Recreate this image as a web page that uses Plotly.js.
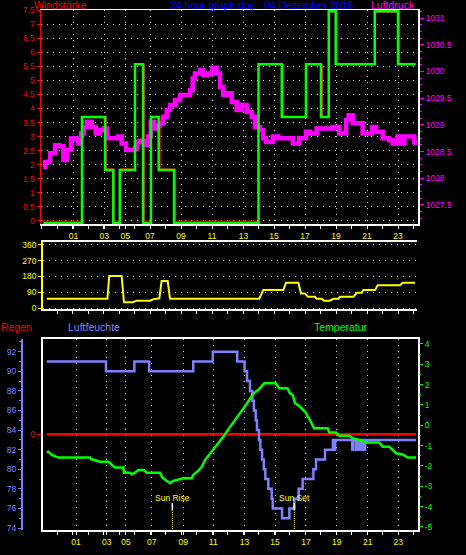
<!DOCTYPE html>
<html><head><meta charset="utf-8">
<script src="https://cdn.plot.ly/plotly-3.0.1.min.js"></script>
<style>html,body{margin:0;padding:0;background:#000;}#c{width:466px;height:555px;}</style>
</head><body><div id="c"></div>
<script>
// ---------- data (hours of the day) ----------
const hourLabels = ['01','03','05','07','09','11','13','15','17','19','21','23'];
const topTickPos = [2.06,4.05,5.41,7.0,9.0,11.0,13.03,15.0,17.0,19.0,21.0,23.0];
const botTickPos = [2.23,4.21,5.45,7.11,9.15,11.08,13.09,15.07,17.06,19.05,21.05,23.02];

// Windstärke (green) step series
const windT = [0.12,2.61,4.10,4.63,5.05,6.03,6.55,7.06,7.56,8.55,14.0,15.5,17.06,18.03,18.53,18.98,21.5,23.0,24.14];
const windV = [0,3.704,1.852,0,1.852,5.556,0,3.704,1.852,0,5.556,3.704,5.556,3.704,7.408,5.556,7.408,5.556,5.556];
// Windböe (red) step series
const gustT = [0.05,2.61,4.20,4.73,5.05,6.03,6.65,7.06,7.66,8.65,14.0,15.6,17.06,18.13,18.53,19.08,21.5,23.1,24.14];
const gustV = [0,3.704,1.852,0,1.852,5.556,0,3.704,1.852,0,5.556,3.704,5.556,3.704,7.408,5.556,7.408,5.556,5.556];

// Luftdruck (magenta)
const pressT = [0.12,0.23,0.42,0.55,0.76,0.87,1.15,1.41,1.63,1.90,2.16,2.37,2.55,2.74,2.95,3.24,3.50,3.77,4.05,4.21,4.63,4.95,5.17,5.45,6.03,6.14,6.35,6.61,6.89,7.05,7.26,7.43,7.65,7.86,8.08,8.29,8.61,8.94,9.26,9.58,9.75,9.90,10.23,10.44,10.76,11.02,11.30,11.52,11.73,11.95,12.27,12.59,12.92,13.24,13.56,13.77,14.10,14.31,14.48,14.63,14.92,15.28,15.82,16.21,16.63,17.06,17.32,17.50,17.75,18.35,18.79,19.21,19.65,19.82,20.08,20.50,20.72,21.05,21.32,21.58,22.01,22.44,22.66,22.98,23.19,23.41,23.73,24.05,24.12];
const pressV = [1028.21,1028.30,1028.31,1028.47,1028.47,1028.62,1028.60,1028.34,1028.53,1028.75,1028.73,1028.65,1028.84,1028.96,1029.06,1028.96,1028.84,1028.90,1028.93,1028.75,1028.75,1028.78,1028.65,1028.53,1028.56,1028.68,1028.70,1028.62,1028.78,1029.06,1028.93,1028.99,1029.03,1029.15,1029.28,1029.37,1029.46,1029.56,1029.56,1029.65,1029.87,1029.96,1030.02,1029.93,1029.96,1030.07,1029.96,1029.71,1029.56,1029.59,1029.43,1029.28,1029.37,1029.24,1029.15,1028.96,1028.90,1028.75,1028.68,1028.68,1028.78,1028.75,1028.75,1028.65,1028.75,1028.87,1028.84,1028.84,1028.93,1028.93,1028.96,1028.84,1029.09,1029.18,1029.03,1029.03,1028.84,1028.84,1028.96,1028.87,1028.75,1028.71,1028.65,1028.78,1028.65,1028.78,1028.78,1028.68,1028.62];
const pressTicks = [1027.5,1028,1028.5,1029,1029.5,1030,1030.5,1031];
const pressLabels = ['1027.5','1028','1028.5','1029','1029.5','1030','1030.5','1031'];
const windTicks = [0,0.5,1,1.5,2,2.5,3,3.5,4,4.5,5,5.5,6,6.5,7,7.5];

// Windrichtung (yellow)
const dirT = [0.34,4.25,4.37,5.17,5.32,5.90,6.14,7.00,7.21,7.60,7.75,8.14,8.29,14.05,14.31,15.60,15.77,16.57,16.74,17.00,17.20,17.65,17.75,18.08,18.23,18.60,18.83,19.15,19.26,20.12,20.34,20.66,20.76,21.52,21.69,23.13,23.30,24.10];
const dirV = [54,54,183,183,34,34,43,43,51,56,155,155,54,54,103,103,144,144,84,84,65,65,54,54,43,43,54,54,65,65,88,88,103,103,131,131,144,144];
const dirTicks = [0,90,180,270,360];
const dirNames = ['N','O','S','W','N'];

// Luftfeuchte (blue) step series
const humT = [0.34,4.16,5.99,6.94,9.79,11.05,12.63,13.10,13.26,13.45,13.60,13.70,13.82,13.90,14.03,14.12,14.23,14.34,14.44,14.63,14.85,14.92,15.52,15.99,16.31,16.59,16.85,17.54,17.71,18.29,18.80,18.85,18.95,20.05,20.12,20.30,20.42,20.55,20.68,20.80,20.88,24.16];
const humV = [91,90,91,90,91,92,91,90,89,88,87,86,85,84,83,82,81,80,79,78,77,76,75,76,77,78,79,80,81,82,83,82,83,82,83,82,83,82,83,82,83,83];

// Temperatur (green)
const tempT = [0.34,0.44,0.66,1.08,3.13,3.20,3.77,4.31,4.48,4.74,5.28,5.32,5.71,5.82,6.03,6.25,6.61,6.79,7.65,7.79,8.01,8.29,8.50,8.83,9.15,9.69,9.79,10.12,10.34,10.55,10.76,11.08,11.41,11.73,12.05,12.37,12.76,13.19,13.45,13.66,14.05,14.37,15.10,15.24,15.34,15.87,16.03,16.21,16.35,16.68,17.00,17.32,17.58,18.46,18.57,19.00,19.21,19.86,20.08,20.50,20.94,21.79,22.01,22.44,22.66,22.87,23.30,23.63,24.16];
const tempV = [-1.33,-1.30,-1.46,-1.59,-1.59,-1.66,-1.79,-1.79,-1.90,-2.07,-2.07,-2.33,-2.33,-2.41,-2.33,-2.20,-2.20,-2.33,-2.33,-2.56,-2.69,-2.85,-2.74,-2.69,-2.61,-2.61,-2.44,-2.23,-2.04,-1.71,-1.51,-1.18,-0.86,-0.56,-0.20,0.16,0.55,1.00,1.30,1.55,1.79,2.07,2.08,1.90,1.82,1.82,1.57,1.49,1.10,0.91,0.67,0.26,-0.15,-0.15,-0.36,-0.36,-0.51,-0.51,-0.64,-0.72,-0.84,-0.84,-1.05,-1.05,-1.21,-1.38,-1.43,-1.59,-1.59];
const tempTicks = [4,3,2,1,0,-1,-2,-3,-4,-5];
const tempLabels = ['4','3','2','1','0','-1','-2','-3','-4','-5'];
const humTicks = [74,76,78,80,82,84,86,88,90,92];

// Regen (red)
const rainT = [0.34,24.16];
const rainV = [0,0];

// Sonne
const sunNames = ['Sun Rise','Sun Set'];
const sunTimes = [8.44,16.31];

// ---------- style ----------
const F = '"Liberation Sans",Arial,sans-serif';
const RED='#ff0000', GREEN='#00ff00', MAG='#ff00ff', YEL='#ffff00', HUM='#8080ff', WHITE='#ffffff';
const GRID = {showgrid:true, gridcolor:'#d8d8d8', gridwidth:1, griddash:'1px,5px'};
const P = y => 1 - y/555;   // pixel row -> paper
const XW = x => x/466;
const TS = 8.5, TTL = 10.5;

const traces = [
  {x:pressT, y:pressV, xaxis:'x', yaxis:'y2', mode:'lines', line:{color:MAG, width:4.5, shape:'hv'}},
  {x:gustT, y:gustV, xaxis:'x', yaxis:'y', mode:'lines', line:{color:RED, width:1, shape:'hv'}},
  {x:windT, y:windV, xaxis:'x', yaxis:'y3', mode:'lines', line:{color:GREEN, width:2.5, shape:'hv'}},
  {x:dirT, y:dirV, xaxis:'x2', yaxis:'y4', mode:'lines', line:{color:YEL, width:2}},
  {x:humT, y:humV, xaxis:'x3', yaxis:'y7', mode:'lines', line:{color:HUM, width:2.5, shape:'hv'}},
  {x:tempT, y:tempV, xaxis:'x3', yaxis:'y8', mode:'lines', line:{color:GREEN, width:2.5}},
  {x:rainT, y:rainV, xaxis:'x3', yaxis:'y6', mode:'lines', line:{color:RED, width:2.5}}
];

const tickFont = c => ({family:F, size:TS, color:c});
const ann = (text, x, y, color, ya) => ({text:text, x:XW(x), y:P(y), xref:'paper', yref:'paper', xanchor:'left', yanchor:ya||'middle', showarrow:false, borderpad:0, font:{family:F, size:TTL, color:color}});

const layout = {
  width:466, height:555, margin:{l:0,r:0,t:0,b:0},
  paper_bgcolor:'#000', plot_bgcolor:'#000', showlegend:false,
  font:{family:F, color:WHITE}, separators:'.,',
  xaxis: Object.assign({domain:[XW(41),XW(418)], anchor:'y', range:[-0.032,24.29],
    showline:true, linecolor:WHITE, linewidth:1.5, mirror:true, zeroline:false,
    tickmode:'array', tickvals:topTickPos, ticktext:hourLabels, tickfont:tickFont(YEL),
    ticks:'outside', ticklen:3, tickcolor:WHITE,
    minor:{tick0:0, dtick:1, ticks:'outside', ticklen:3, tickcolor:WHITE, showgrid:false}}, GRID),
  yaxis: Object.assign({domain:[P(224),P(10)], anchor:'x', range:[-0.107,7.5],
    tickmode:'array', tickvals:windTicks,
    showline:true, linecolor:RED, linewidth:1.5, zeroline:false,
    ticks:'outside', ticklen:3, tickcolor:RED, tickfont:tickFont(RED)}, GRID),
  yaxis2: {overlaying:'y', side:'right', anchor:'x', range:[1027.144,1031.15],
    tickmode:'array', tickvals:pressTicks, ticktext:pressLabels,
    showline:true, linecolor:WHITE, linewidth:2, showgrid:false, zeroline:false,
    ticks:'outside', ticklen:4, tickcolor:MAG, tickfont:tickFont(MAG),
    minor:{tick0:1027, dtick:0.125, ticks:'outside', ticklen:2, tickcolor:MAG, showgrid:false}},
  yaxis3: {overlaying:'y', range:[-0.035,7.45], visible:false},

  xaxis2: {domain:[XW(42.7),XW(416.7)], anchor:'y4', range:[0.077,24.206],
    showline:true, linecolor:WHITE, linewidth:1.5, mirror:true, zeroline:false, showgrid:false,
    dtick:1, tick0:0, ticks:'outside', ticklen:3, tickcolor:WHITE, showticklabels:false},
  yaxis4: Object.assign({domain:[P(309.3),P(241.7)], anchor:'x2', range:[-5.7,377],
    tickmode:'array', tickvals:dirTicks, tickfont:tickFont(YEL),
    showline:true, linecolor:YEL, linewidth:1.5, zeroline:false,
    ticks:'outside', ticklen:3, tickcolor:YEL}, GRID),
  yaxis5: {overlaying:'y4', side:'right', anchor:'x2', range:[-5.7,377],
    tickmode:'array', tickvals:dirTicks, ticktext:dirNames, tickfont:{family:F, size:12.5, color:YEL},
    ticks:'', ticklabelstandoff:22, showline:true, linecolor:WHITE, linewidth:2, showgrid:false, zeroline:false},

  xaxis3: Object.assign({domain:[XW(42.7),XW(418)], anchor:'y6', range:[0.077,24.29],
    showline:true, linecolor:WHITE, linewidth:2, mirror:true, zeroline:false,
    tickmode:'array', tickvals:botTickPos, ticktext:hourLabels, tickfont:tickFont(YEL),
    ticks:'outside', ticklen:3, tickcolor:WHITE,
    minor:{tick0:0, dtick:1, ticks:'outside', ticklen:3, tickcolor:WHITE, showgrid:false}}, GRID),
  yaxis6: {domain:[P(530),P(339.3)], anchor:'x3', range:[-1.0036,0.9964],
    tickmode:'array', tickvals:[0], ticktext:['0'], tickfont:tickFont(RED),
    ticks:'outside', ticklen:4, tickcolor:RED, showline:true, linecolor:WHITE, linewidth:2, mirror:true,
    showgrid:false, zeroline:false},
  yaxis7: {overlaying:'y6', anchor:'free', position:XW(22), side:'left', range:[73.8,93.27],
    tickmode:'array', tickvals:humTicks,
    showline:true, linecolor:HUM, linewidth:2, showgrid:false, zeroline:false,
    ticks:'outside', ticklen:3, tickcolor:HUM, tickfont:tickFont(HUM),
    minor:{tick0:0, dtick:1, ticks:'outside', ticklen:2, tickcolor:HUM, showgrid:false}},
  yaxis8: {overlaying:'y6', side:'right', anchor:'x3', range:[-5.15,4.23],
    tickmode:'array', tickvals:tempTicks, ticktext:tempLabels, tickfont:tickFont(GREEN),
    ticks:'outside', ticklen:4, tickcolor:GREEN, showline:false, showgrid:false, zeroline:false,
    minor:{tick0:0, dtick:0.5, ticks:'outside', ticklen:2, tickcolor:GREEN, showgrid:false}},
  yaxis9: Object.assign({overlaying:'y6', range:[-0.125,10.27], dtick:1, tick0:0,
    showticklabels:false, ticks:'', zeroline:false, showline:false}, GRID),

  annotations: [
    ann('Windstärke', 33, 12.5, RED, 'bottom'),
    ann('24 hour graph day : 04 Dezember 2016', 169, 12.5, '#0000ff', 'bottom'),
    ann('Luftdruck', 370, 12.5, MAG, 'bottom'),
    ann('Regen', 0, 326.5, RED),
    ann('Luftfeuchte', 67, 326.5, HUM),
    ann('Temperatur', 313, 326.5, GREEN)
  ].concat(sunNames.map((s,i)=>({text:s, x:sunTimes[i], xref:'x3', y:P(497.7), yref:'paper', xanchor:'center', yanchor:'middle', showarrow:false, font:{family:F, size:8.5, color:YEL}}))),
  shapes: [].concat(...sunTimes.map(t=>[
    {type:'line', xref:'x3', yref:'paper', x0:t, x1:t, y0:P(503), y1:P(510), line:{color:WHITE, width:1.5}},
    {type:'line', xref:'x3', yref:'paper', x0:t, x1:t, y0:P(510), y1:P(530), line:{color:YEL, width:1, dash:'1px,1px'}}
  ]))
};

Plotly.newPlot('c', traces, layout, {staticPlot:true, displayModeBar:false});
</script></body></html>
